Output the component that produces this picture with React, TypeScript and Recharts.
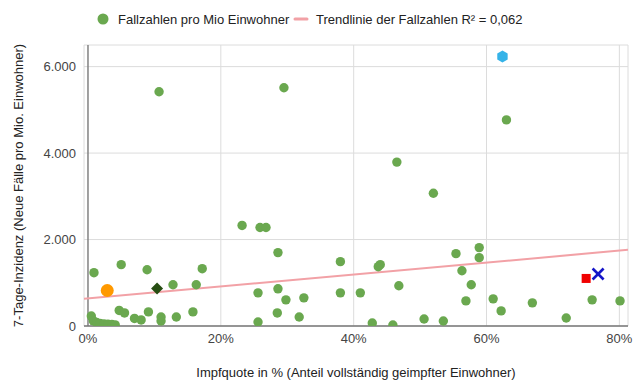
import {
  ScatterChart,
  Scatter,
  XAxis,
  YAxis,
  CartesianGrid,
  ReferenceLine,
} from "recharts";

// Impfquote (%) and 7-Tage-Inzidenz per country
const impfquote = [
  10.7, 29.5, 23.2, 25.9, 26.8, 28.6, 63.0, 55.4, 58.9, 58.9, 56.3, 57.7, 56.9,
  61.0, 62.2, 66.9, 72.0, 75.9, 80.1, 52.0, 46.5, 38.0, 44.0, 43.7, 28.6, 29.8,
  32.5, 38.0, 41.0, 46.8, 28.5, 31.8, 42.8, 45.9, 50.6, 53.5, 25.6, 25.6, 0.9,
  5.0, 8.9, 17.2, 12.8, 16.3, 4.7, 5.5, 9.1, 15.8, 13.3, 7.0, 8.0, 11.0, 11.0,
  0.5, 0.8, 1.3, 1.8, 2.4, 3.0, 3.6, 4.1,
];
const inzidenz = [
  5419, 5512, 2326, 2279, 2279, 1698, 4767, 1674, 1814, 1581, 1279, 953, 581,
  628, 349, 535, 186, 605, 581, 3070, 3791, 1488, 1419, 1372, 860, 605, 651,
  767, 767, 930, 302, 209, 70, 23, 163, 116, 767, 93, 1233, 1419, 1302, 1326,
  953, 953, 360, 302, 326, 326, 209, 175, 140, 209, 116, 230, 120, 80, 60, 50,
  40, 35, 25,
];

// highlighted countries (one marker each)
const orangeQuote = [2.9];
const orangeInz = [821];
const diamondQuote = [10.4];
const diamondInz = [867];
const hexQuote = [62.4];
const hexInz = [6233];
const squareQuote = [75.0];
const squareInz = [1100];
const crossQuote = [76.8];
const crossInz = [1202];

// trendline end points
const trendQuote = [-0.6, 81.3];
const trendInz = [628, 1762];

const xTicks = [0, 20, 40, 60, 80];
const yTicks = [0, 2000, 4000, 6000];

const toPoints = (xs: number[], ys: number[]) =>
  xs.map((x, i) => ({ x, y: ys[i] }));

const points = toPoints(impfquote, inzidenz);
const trend = toPoints(trendQuote, trendInz);

const FONT = "Arial, 'Liberation Sans', sans-serif";
const GREEN = "#6aa84f";

const fmtThousand = (v: number) =>
  String(v).replace(/\B(?=(\d{3})+(?!\d))/g, ".");

const Dot = (p: any) => <circle cx={p.cx} cy={p.cy} r={4.7} fill={GREEN} />;
const OrangeDot = (p: any) => (
  <circle cx={p.cx} cy={p.cy} r={6.5} fill="#ff9900" />
);
const Diamond = (p: any) => (
  <polygon
    points={`${p.cx},${p.cy - 6} ${p.cx + 6},${p.cy} ${p.cx},${p.cy + 6} ${p.cx - 6},${p.cy}`}
    fill="#274e13"
  />
);
const Hexagon = (p: any) => {
  const r = 6;
  const pts = [0, 1, 2, 3, 4, 5]
    .map((k) => {
      const a = (Math.PI / 3) * k - Math.PI / 2;
      return `${p.cx + r * Math.cos(a)},${p.cy + r * Math.sin(a)}`;
    })
    .join(" ");
  return <polygon points={pts} fill="#35b3e8" />;
};
const Square = (p: any) => (
  <rect x={p.cx - 4.5} y={p.cy - 4.5} width={9} height={9} fill="#f00000" />
);
const Cross = (p: any) => (
  <g stroke="#1515c8" strokeWidth={2.6}>
    <line x1={p.cx - 5.5} y1={p.cy - 5.5} x2={p.cx + 5.5} y2={p.cy + 5.5} />
    <line x1={p.cx - 5.5} y1={p.cy + 5.5} x2={p.cx + 5.5} y2={p.cy - 5.5} />
  </g>
);
const NoDot = () => null;

const Legend = () => (
  <div
    style={{
      position: "absolute",
      left: 0,
      top: 0,
      width: 640,
      height: 40,
      fontFamily: FONT,
      fontSize: 13,
      color: "#222",
      pointerEvents: "none",
    }}
  >
    <svg width={640} height={40} style={{ position: "absolute", left: 0, top: 0 }}>
      <circle cx={103} cy={19} r={5.5} fill={GREEN} />
      <line
        x1={295}
        y1={19}
        x2={307}
        y2={19}
        stroke="#f2a1a6"
        strokeWidth={3}
        strokeLinecap="round"
      />
      <text x={118} y={24} fontFamily={FONT} fontSize={13} fill="#222">
        Fallzahlen pro Mio Einwohner
      </text>
      <text x={316} y={24} fontFamily={FONT} fontSize={13} fill="#222">
        Trendlinie der Fallzahlen R² = 0,062
      </text>
    </svg>
  </div>
);

export default function App() {
  return (
    <div
      style={{
        position: "absolute",
        left: 0,
        top: 0,
        width: 640,
        height: 391,
        background: "#fff",
        fontFamily: FONT,
      }}
    >
      <ScatterChart
        width={640}
        height={391}
        margin={{ top: 45, right: 12, bottom: 0, left: 0 }}
      >
        <CartesianGrid stroke="#dcdcdc" />
        <XAxis
          type="number"
          dataKey="x"
          domain={[-0.6, 81.3]}
          allowDataOverflow
          ticks={xTicks}
          tickFormatter={(v: number) => `${v}%`}
          tickLine={false}
          axisLine={{ stroke: "#777", strokeWidth: 1.5 }}
          height={65}
          tick={{ fill: "#444", fontSize: 13, fontFamily: FONT }}
          label={{
            value: "Impfquote in % (Anteil vollständig geimpfter Einwohner)",
            position: "insideBottom",
            offset: 14,
            fill: "#222",
            fontSize: 13,
            fontFamily: FONT,
          }}
        />
        <YAxis
          type="number"
          dataKey="y"
          domain={[0, 6500]}
          allowDataOverflow
          ticks={yTicks}
          tickFormatter={fmtThousand}
          tickLine={false}
          axisLine={false}
          width={84}
          tick={{ fill: "#444", fontSize: 13, fontFamily: FONT }}
          label={{
            value: "7-Tage-Inzidenz (Neue Fälle pro Mio. Einwohner)",
            angle: -90,
            position: "insideLeft",
            offset: 18,
            fill: "#222",
            fontSize: 13,
            fontFamily: FONT,
            style: { textAnchor: "middle" },
          }}
        />
        <ReferenceLine x={0} stroke="#555" strokeWidth={1} />
        <Scatter
          data={trend}
          line={{ stroke: "#f2a1a6", strokeWidth: 2 }}
          shape={NoDot}
          isAnimationActive={false}
        />
        <Scatter data={points} shape={Dot} isAnimationActive={false} />
        <Scatter
          data={toPoints(orangeQuote, orangeInz)}
          shape={OrangeDot}
          isAnimationActive={false}
        />
        <Scatter
          data={toPoints(diamondQuote, diamondInz)}
          shape={Diamond}
          isAnimationActive={false}
        />
        <Scatter
          data={toPoints(hexQuote, hexInz)}
          shape={Hexagon}
          isAnimationActive={false}
        />
        <Scatter
          data={toPoints(squareQuote, squareInz)}
          shape={Square}
          isAnimationActive={false}
        />
        <Scatter
          data={toPoints(crossQuote, crossInz)}
          shape={Cross}
          isAnimationActive={false}
        />
      </ScatterChart>
      <Legend />
    </div>
  );
}
